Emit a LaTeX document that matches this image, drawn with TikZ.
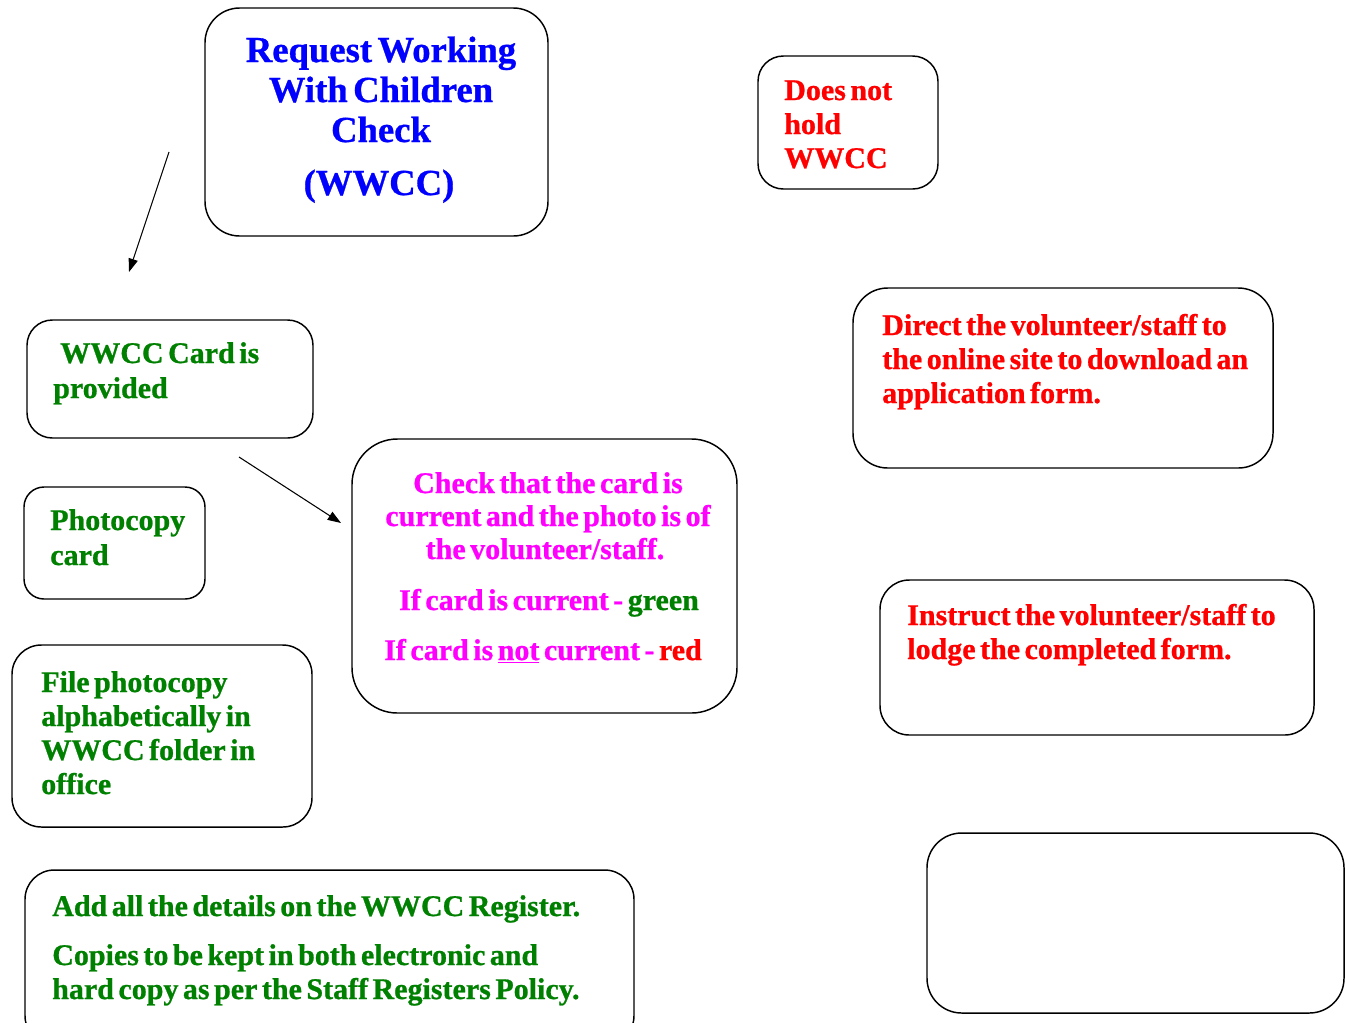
\documentclass[tikz,border=0pt]{standalone}
\usepackage{fontspec}
\setmainfont{Liberation Serif}[WordSpace=0.6,LetterSpace=0,BoldFeatures={FakeBold=0.8}]
\usetikzlibrary{arrows.meta}
\definecolor{tblue}{RGB}{0,0,255}
\definecolor{tred}{RGB}{255,0,0}
\definecolor{tgreen}{RGB}{0,128,0}
\definecolor{tmag}{RGB}{255,0,255}
\begin{document}
\begin{tikzpicture}[x=0.75pt,y=-0.75pt,
  box/.style={draw=black, line width=1.1pt, fill=white, inner sep=0pt},
  txt/.style={anchor=base west, inner sep=0pt, font=\bfseries\fontsize{22.5}{25.5}\selectfont},
  ctxt/.style={txt, anchor=base},
  ttl/.style={anchor=base, inner sep=0pt, text=tblue, font=\bfseries\fontsize{27.5}{30}\selectfont},
  arr/.style={line width=0.8pt, -{Triangle[length=10pt,width=7pt]}}]
\useasboundingbox (0,0) rectangle (1345,1022);
% boxes
\node[box, rounded corners=26pt, minimum width=257.25pt, minimum height=171pt] (title) at (376.5,122) {};
\node[box, rounded corners=19pt, minimum width=135pt, minimum height=99.75pt] (dnh) at (848,122.5) {};
\node[box, rounded corners=19pt, minimum width=214.5pt, minimum height=88.5pt] (card) at (170,379) {};
\node[box, rounded corners=15pt, minimum width=135.75pt, minimum height=84pt] (photo) at (114.5,543) {};
\node[box, rounded corners=22pt, minimum width=225pt, minimum height=136.5pt] (file) at (162,736) {};
\node[box, rounded corners=22pt, minimum width=456.75pt, minimum height=131.25pt] (add) at (329.5,957.5) {};
\node[box, rounded corners=34pt, minimum width=288.75pt, minimum height=205.5pt] (check) at (544.5,576) {};
\node[box, rounded corners=26pt, minimum width=315pt, minimum height=135pt] (direct) at (1063,378) {};
\node[box, rounded corners=22pt, minimum width=325.5pt, minimum height=116.25pt] (instr) at (1097,657.5) {};
\node[box, rounded corners=26pt, minimum width=312.75pt, minimum height=135pt] (empty) at (1135.5,923) {};
% arrows
\coordinate (a1s) at (169,152);
\coordinate (a1e) at (129,272);
\coordinate (a2s) at (239,457);
\coordinate (a2e) at (341,523);
\draw[arr] (a1s) -- (a1e);
\draw[arr] (a2s) -- (a2e);
% title text
\node[ttl] (t1) at (381,62) {Request Working};
\node[ttl] (t2) at (381,102) {With Children};
\node[ttl] (t3) at (381,142) {Check};
\node[ttl] (t4) at (379,195) {(WWCC)};
% does not hold
\node[txt, text=tred] (d1) at (784,100) {Does not};
\node[txt, text=tred] (d2) at (784,134) {hold};
\node[txt, text=tred] (d3) at (784,168) {WWCC};
% card provided
\node[txt, text=tgreen] (c1) at (60,363) {WWCC Card is};
\node[txt, text=tgreen] (c2) at (53,398) {provided};
% photocopy
\node[txt, text=tgreen] (p1) at (50,530) {Photocopy};
\node[txt, text=tgreen] (p2) at (50,565) {card};
% file
\node[txt, text=tgreen] (f1) at (41,692) {File photocopy};
\node[txt, text=tgreen] (f2) at (41,726) {alphabetically in};
\node[txt, text=tgreen] (f3) at (41,760) {WWCC folder in};
\node[txt, text=tgreen] (f4) at (41,794) {office};
% add
\node[txt, text=tgreen] (g1) at (52,916) {Add all the details on the WWCC Register.};
\node[txt, text=tgreen] (g2) at (52,965) {Copies to be kept in both electronic and};
\node[txt, text=tgreen] (g3) at (52,999) {hard copy as per the Staff Registers Policy.};
% check
\node[ctxt, text=tmag] (k1) at (548,493) {Check that the card is};
\node[ctxt, text=tmag] (k2) at (548,526) {current and the photo is of};
\node[ctxt, text=tmag] (k3) at (545,559) {the volunteer/staff.};
\node[ctxt, text=tmag] (k4) at (549,610) {If card is current - \textcolor{tgreen}{green}};
\node[ctxt, text=tmag] (k5) at (543,660) {If card is \underline{not} current - \textcolor{tred}{red}};
% direct
\node[txt, text=tred] (r1) at (882,335) {Direct the volunteer/staff to};
\node[txt, text=tred] (r2) at (882,369) {the online site to download an};
\node[txt, text=tred] (r3) at (882,403) {application form.};
% instruct
\node[txt, text=tred] (i1) at (907,625) {Instruct the volunteer/staff to};
\node[txt, text=tred] (i2) at (907,659) {lodge the completed form.};
\end{tikzpicture}
\end{document}
